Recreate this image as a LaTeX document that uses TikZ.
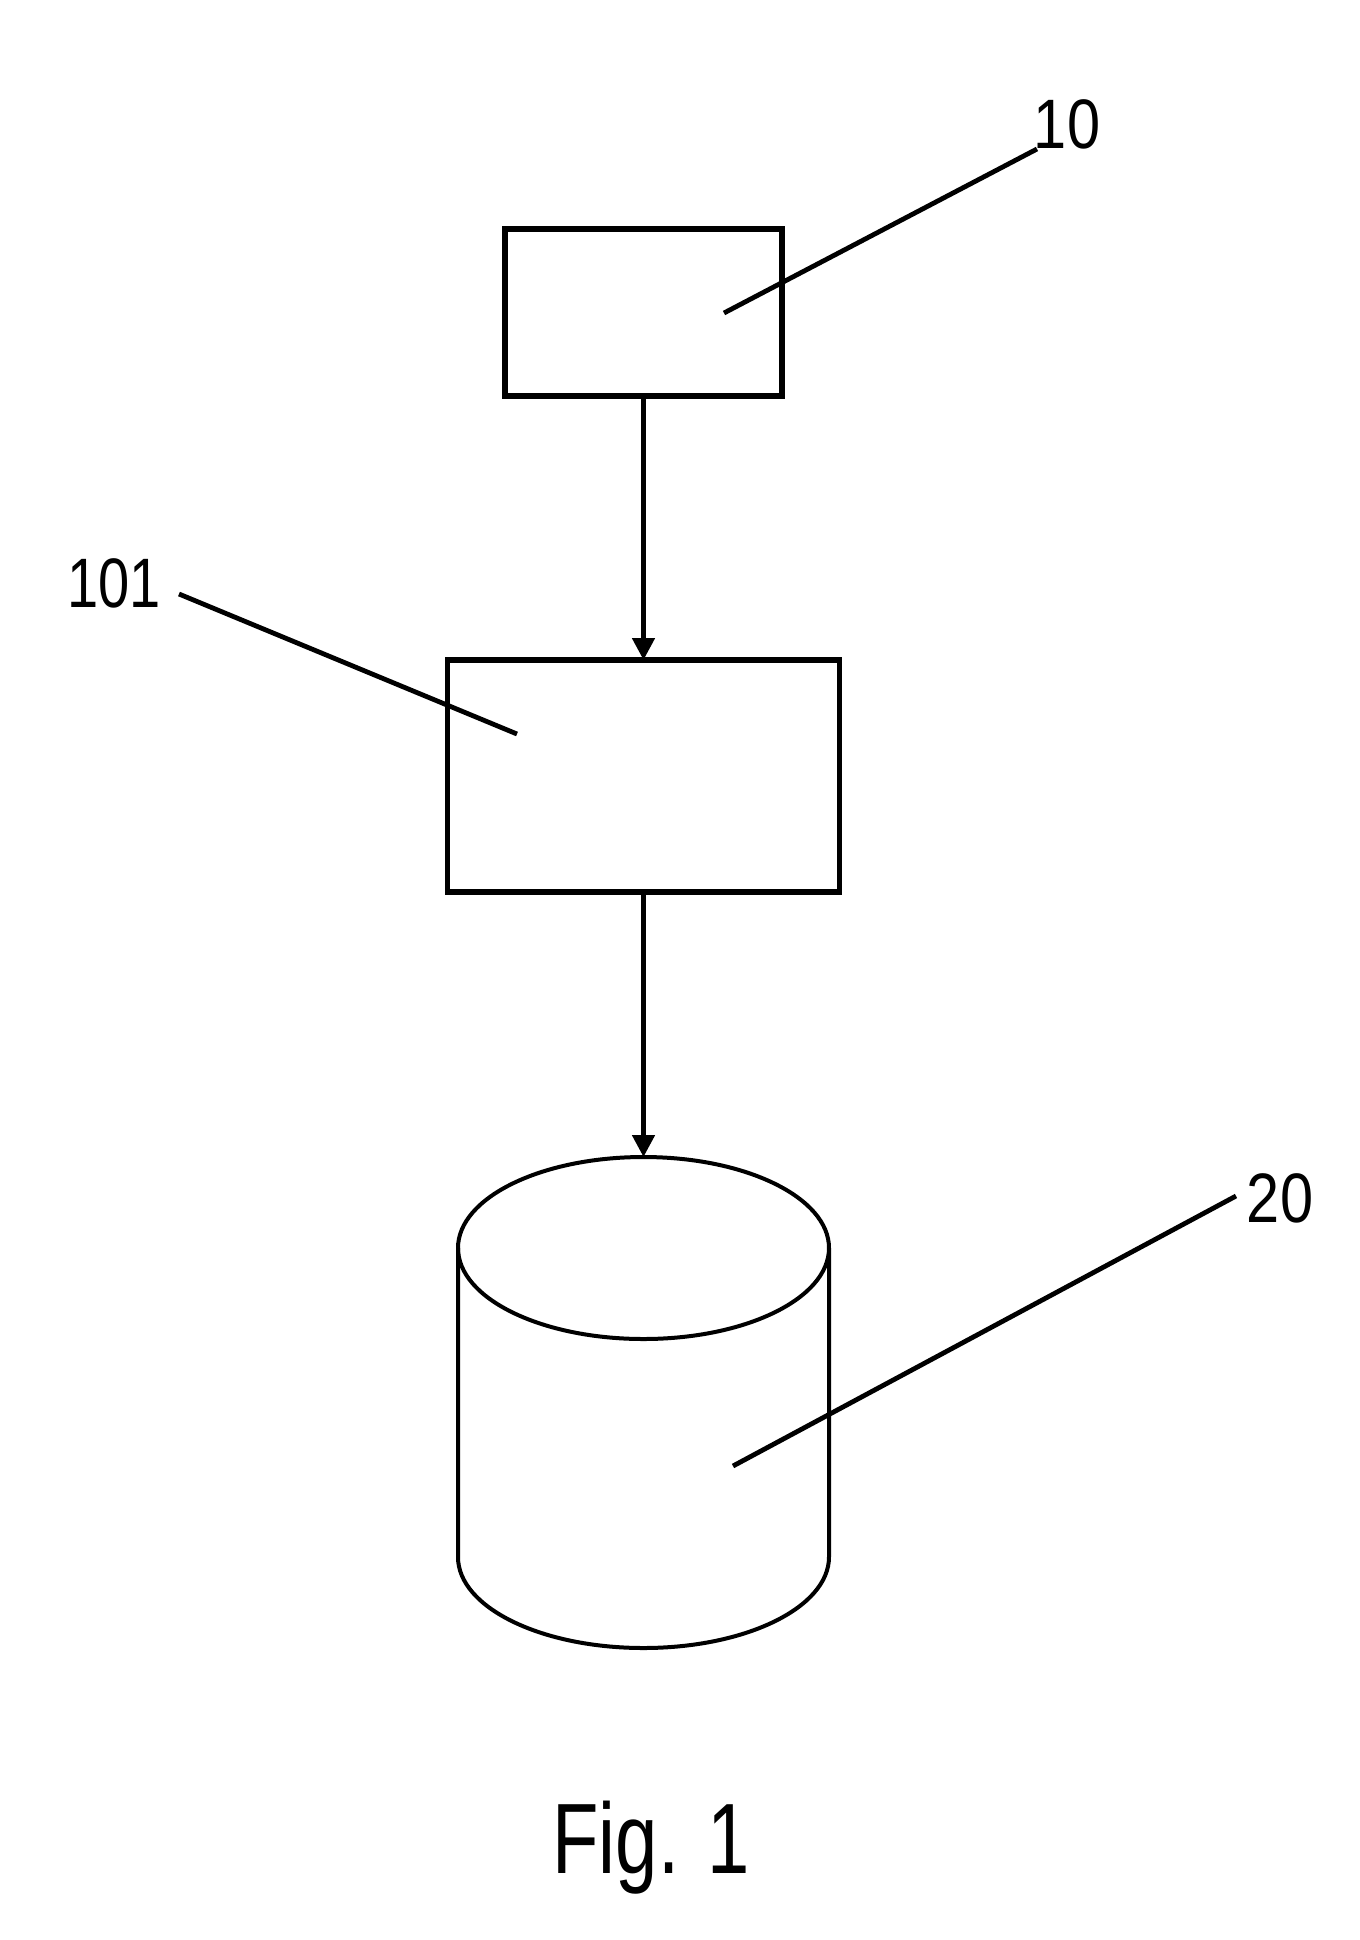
\documentclass[tikz,border=0pt]{standalone}
\usepackage{fontspec}
\setmainfont{Liberation Sans}
\usetikzlibrary{arrows.meta}
\begin{document}
\begin{tikzpicture}[x=0.5pt,y=0.5pt,
  blockbox/.style={draw, line width=2.6pt, inner sep=0pt, outer sep=0pt, anchor=north west},
  leader/.style={line width=2.4pt},
  flow/.style={line width=2.4pt, -{Triangle[width=11pt,length=11pt]}},
  thinline/.style={line width=2pt},
  reflabel/.style={font=\fontsize{35}{35}\selectfont, inner sep=0pt},
  figlabel/.style={font=\fontsize{50}{50}\selectfont, inner sep=0pt}]
\useasboundingbox (0,0) rectangle (1360,-1940);
% boxes
\node[blockbox, minimum width=138.5pt, minimum height=83.5pt] (b10) at (505,-229) {};
\node[blockbox, minimum width=196pt, minimum height=116pt] (b101) at (447.5,-660) {};
% cylinder
\node[inner sep=0pt, outer sep=0pt, minimum width=185.5pt, minimum height=245pt, anchor=north] (db) at (643.5,-1157) {};
\draw[thinline] (643.5,-1248) ellipse [x radius=185.5, y radius=91];
\draw[thinline] (458,-1248) -- (458,-1557) arc[start angle=180, end angle=360, x radius=185.5, y radius=91] -- (829,-1248);
% flow arrows
\draw[flow] (b10.south) -- (b101.north);
\draw[flow] (b101.south) -- (db.north);
% labels
\node[reflabel] (l10) at (1067,-124) {\scalebox{0.85}[1]{10}};
\node[reflabel] (l101) at (114,-583) {\scalebox{0.8}[1]{101}};
\node[reflabel] (l20) at (1280,-1198) {\scalebox{0.85}[1]{20}};
\node[figlabel] (fig) at (651,-1848) {\scalebox{0.76}[1]{Fig. 1}};
% leader lines
\coordinate (p10) at (724,-313);
\coordinate (p101) at (517,-734);
\coordinate (p20) at (733,-1466);
\coordinate (e10) at (1037,-149);
\coordinate (e101) at (179,-594);
\coordinate (e20) at (1236,-1196);
\draw[leader] (p10) -- (e10);
\draw[leader] (e101) -- (p101);
\draw[leader] (p20) -- (e20);
\end{tikzpicture}
\end{document}
